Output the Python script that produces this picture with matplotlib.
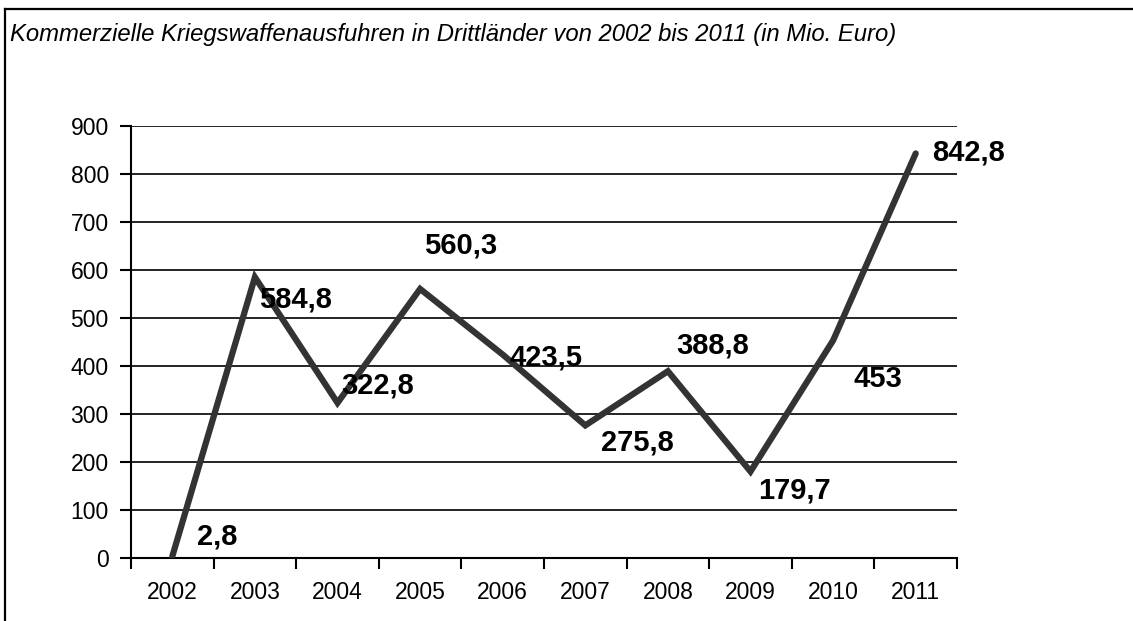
import matplotlib.pyplot as plt
from matplotlib.lines import Line2D

# chart data
years = ["2002", "2003", "2004", "2005", "2006", "2007", "2008", "2009", "2010", "2011"]
exports = [2.8, 584.8, 322.8, 560.3, 423.5, 275.8, 388.8, 179.7, 453, 842.8]
value_labels = ["2,8", "584,8", "322,8", "560,3", "423,5", "275,8", "388,8", "179,7", "453", "842,8"]
# label offsets (category units, data units) relative to each point
label_dx = [0.54, 0.49, 0.49, 0.49, 0.52, 0.63, 0.54, 0.53, 0.54, 0.64]
label_dy = [41, -47, 37, 90, -6, -35, 53, -39, -80, 2]

plt.rcParams['font.family'] = ['Liberation Sans', 'DejaVu Sans']

fig = plt.figure(figsize=(11.33, 6.21), dpi=100)
ax = fig.add_axes([131 / 1133, 1 - 557.7 / 621, (957 - 131) / 1133, (557.7 - 126) / 621])

x = list(range(len(years)))
ax.plot(x, exports, color='#333333', linewidth=4.5, solid_capstyle='round',
        solid_joinstyle='miter', zorder=3)

for i, (v, lab) in enumerate(zip(exports, value_labels)):
    ax.text(i + label_dx[i], v + label_dy[i], lab, fontsize=21, fontweight='bold',
            ha='center', va='center', clip_on=False, zorder=4)

ax.set_xlim(-0.5, len(years) - 0.5)
ax.set_ylim(0, 900)
ax.set_yticks(range(0, 1000, 100))
ax.yaxis.grid(True, color='black', linewidth=1.2)
ax.set_axisbelow(True)

# category boundaries get the tick marks, labels sit at category centres
ax.set_xticks([i - 0.5 for i in range(len(years) + 1)])
ax.set_xticklabels([])
ax.set_xticks(x, minor=True)
ax.set_xticklabels(years, minor=True)
ax.tick_params(axis='x', which='major', length=8, width=1.5, direction='out')
ax.tick_params(axis='x', which='minor', length=0, pad=17, labelsize=16.5)
ax.tick_params(axis='y', length=8, width=1.5, direction='out', pad=8, labelsize=16.5)

for side in ['top', 'right']:
    ax.spines[side].set_visible(False)
for side in ['left', 'bottom']:
    ax.spines[side].set_linewidth(1.5)

fig.text(10 / 1133, 1 - 35 / 621, "Kommerzielle Kriegswaffenausfuhren in Drittländer von 2002 bis 2011 (in Mio. Euro)",
         fontsize=17.2, fontstyle='italic', ha='left', va='center')

# figure border (top and left only, the rest is cropped)
fig.add_artist(Line2D([5 / 1133, 1], [1 - 9 / 621, 1 - 9 / 621], transform=fig.transFigure,
                      color='black', linewidth=1.6))
fig.add_artist(Line2D([5 / 1133, 5 / 1133], [0, 1 - 9 / 621], transform=fig.transFigure,
                      color='black', linewidth=1.6))

fig.savefig("out.png", dpi=100, facecolor='white')
